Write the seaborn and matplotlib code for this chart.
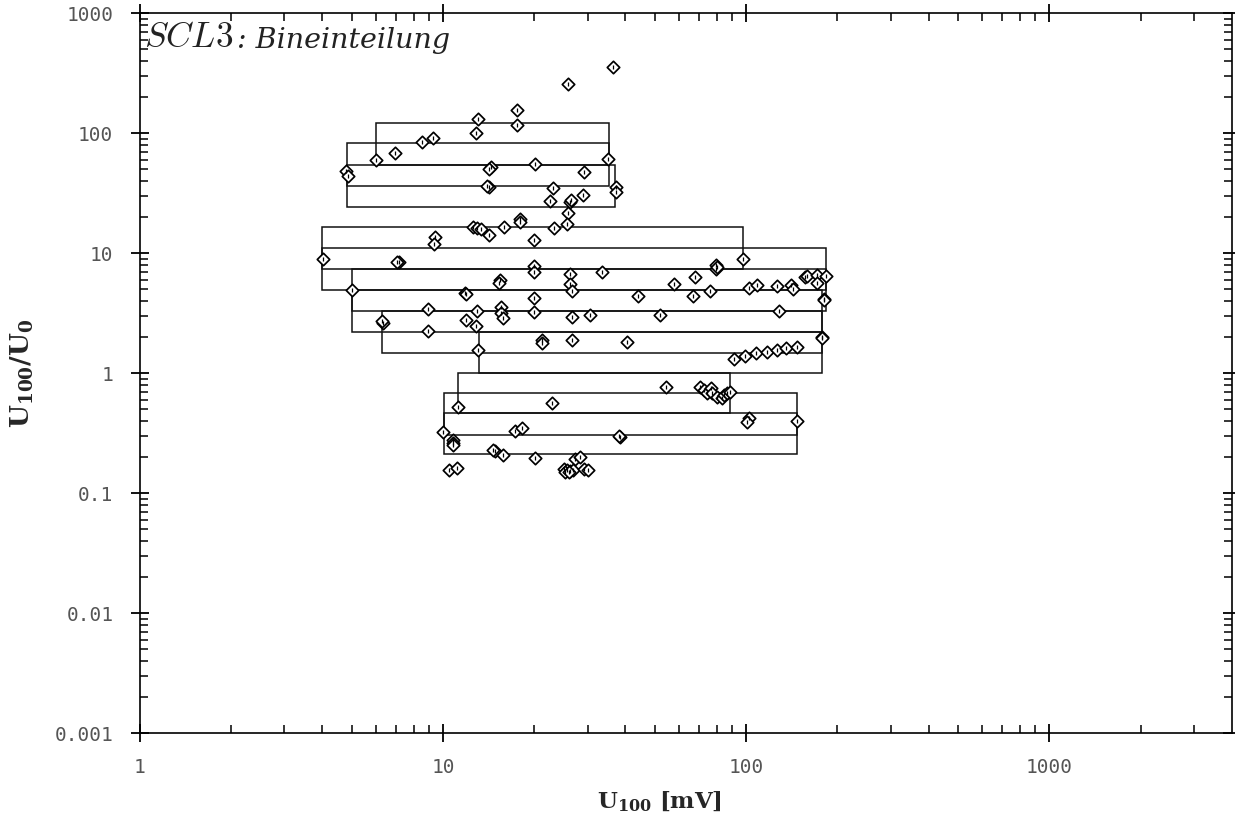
import numpy as np
import pandas as pd
import matplotlib
matplotlib.use("Agg")
import matplotlib.pyplot as plt
import seaborn as sns
from matplotlib.patches import Rectangle
from matplotlib.ticker import FixedLocator, FixedFormatter, NullFormatter

# ---- measured channels: U100 [mV] and ratio U100/U0 ----
u100 = [
    36.4, 25.9, 17.6, 13.1, 17.6, 12.9, 9.27, 8.50, 6.94, 6.01, 35.1, 20.1, 14.4, 14.2,
    4.80, 4.88, 29.2, 14.2, 14.0, 23.0, 37.1, 37.1, 29.0, 22.6, 26.2, 26.4,
    25.9, 25.6, 17.9, 17.9, 12.6, 13.0, 13.4, 15.9, 14.2, 23.2, 9.43, 9.36, 20.0,
    4.01, 7.14, 7.05, 97.7, 79.8, 79.4, 80.3, 26.3, 33.5, 20.0, 20.0, 15.4, 15.3,
    26.3, 26.6, 68.0, 57.7, 67.0, 75.9, 102, 109, 126, 141, 143, 156, 159, 171,
    171, 183, 180, 181, 44.0, 5.03, 11.8, 11.9, 20.0, 8.90, 13.0, 15.5, 15.5, 15.8,
    19.9, 26.6, 30.6, 51.9, 128, 6.34, 6.30, 11.9, 12.9, 8.90, 21.3, 21.3, 13.1,
    26.6, 40.5, 178, 178, 91.2, 99.5, 108, 117, 126, 135, 147,
    54.3, 70.3, 72.4, 74.3, 76.3, 77.2, 80.2, 83.3, 84.4, 86.5, 88.7,
    11.2, 22.9, 102, 101, 147, 10.0, 17.3, 18.2, 38.5, 38.2, 10.8, 10.8, 10.8,
    14.9, 14.6, 15.8, 20.1, 27.3, 28.4, 10.5, 11.1, 25.0, 25.6, 26.3, 26.9, 29.1,
    30.2, 25.3, 26.0,
]
ratio = [
    359, 256, 158, 131, 117, 100, 92, 84, 68, 60, 60.7, 55.5, 52.1, 50.1,
    48.2, 44.1, 47.6, 35.7, 36.2, 34.8, 35.5, 32.6, 30.8, 27.4, 26.9, 27.6,
    21.5, 17.5, 19.3, 18.1, 16.5, 16.2, 15.9, 16.5, 14.2, 16.3, 13.8, 11.9, 12.9,
    8.91, 8.41, 8.55, 8.97, 7.99, 7.40, 7.75, 6.68, 6.95, 7.84, 7.03, 5.99, 5.62,
    5.52, 4.85, 6.38, 5.55, 4.43, 4.85, 5.17, 5.41, 5.34, 5.44, 5.04, 6.31, 6.47, 6.59,
    5.69, 6.47, 4.14, 4.05, 4.43, 4.95, 4.64, 4.55, 4.22, 3.43, 3.32, 3.59, 3.16, 2.87,
    3.26, 2.93, 3.06, 3.06, 3.32, 2.61, 2.72, 2.78, 2.46, 2.25, 1.89, 1.78, 1.56,
    1.89, 1.81, 2.02, 1.96, 1.31, 1.39, 1.47, 1.51, 1.57, 1.62, 1.65,
    0.773, 0.773, 0.726, 0.681, 0.750, 0.681, 0.638, 0.619, 0.660, 0.681, 0.703,
    0.527, 0.562, 0.422, 0.395, 0.403, 0.326, 0.332, 0.348, 0.296, 0.300, 0.278, 0.261, 0.253,
    0.225, 0.228, 0.208, 0.196, 0.192, 0.202, 0.156, 0.162, 0.159, 0.156, 0.154, 0.157, 0.159,
    0.156, 0.152, 0.150,
]

# ---- bin boundaries (overlapping bins) ----
bin_x_lo = [6.01, 4.83, 4.83, 4.0, 4.0, 5.03, 5.03, 6.32, 13.2, 11.2, 10.05, 10.05]
bin_x_hi = [35.2, 35.2, 37.0, 97.7, 183.6, 183.6, 178.2, 178.2, 178.2, 88.8, 147.3, 147.3]
bin_y_lo = [54.4, 36.4, 24.5, 7.36, 4.95, 3.32, 2.20, 1.485, 1.0, 0.464, 0.306, 0.2126]
bin_y_hi = [122, 82.5, 54.4, 16.5, 11.1, 7.36, 4.95, 3.32, 2.20, 1.0, 0.681, 0.464]

x_major = [1, 10, 100, 1000]
x_labels = ["1", "10", "100", "1000"]
y_major = [0.001, 0.01, 0.1, 1, 10, 100, 1000]
y_labels = ["0.001", "0.01", "0.1", "1", "10", "100", "1000"]

df = pd.DataFrame({"u100": u100, "ratio": ratio})

sns.set_theme(style="ticks")
plt.rcParams["font.family"] = ["DejaVu Sans"]

fig = plt.figure(figsize=(12.35, 8.19), dpi=100)
ax = fig.add_axes([0.1131, 0.1046, 0.8844, 0.8791])
ax.set_xscale("log")
ax.set_yscale("log")
ax.set_xlim(1, 4000)
ax.set_ylim(0.001, 1000)

for xl, xh, yl, yh in zip(bin_x_lo, bin_x_hi, bin_y_lo, bin_y_hi):
    ax.add_patch(Rectangle((xl, yl), xh - xl, yh - yl, fill=False,
                           edgecolor="#111111", linewidth=1.1, zorder=2))

sns.scatterplot(data=df, x="u100", y="ratio", marker="D", s=40,
                color="white", edgecolor="black", linewidth=1.25,
                ax=ax, zorder=3, legend=False)
ax.scatter(df["u100"], df["ratio"], marker="|", s=6, color="black",
           linewidths=0.9, zorder=4)

# ticks
minor_x = [m * 10 ** e for e in range(0, 4) for m in range(2, 10) if m * 10 ** e < 4000]
minor_y = [m * 10.0 ** e for e in range(-3, 3) for m in range(2, 10)]
ax.xaxis.set_major_locator(FixedLocator(x_major))
ax.xaxis.set_major_formatter(FixedFormatter(x_labels))
ax.xaxis.set_minor_locator(FixedLocator(minor_x))
ax.xaxis.set_minor_formatter(NullFormatter())
ax.yaxis.set_major_locator(FixedLocator(y_major))
ax.yaxis.set_major_formatter(FixedFormatter(y_labels))
ax.yaxis.set_minor_locator(FixedLocator(minor_y))
ax.yaxis.set_minor_formatter(NullFormatter())

ax.tick_params(which="major", direction="inout", length=13, width=1.3,
               top=True, right=True, colors="black", labelcolor="#555555",
               labelsize=14, labelfontfamily="DejaVu Sans Mono")
ax.tick_params(axis="x", which="major", pad=11)
ax.tick_params(axis="y", which="major", pad=12.5)
ax.tick_params(which="minor", direction="in", length=6, width=1.1,
               top=True, right=True, colors="black")
for sp in ax.spines.values():
    sp.set_linewidth(1.2)
    sp.set_color("black")
ax.grid(False)
ax.set_facecolor("white")

# axis labels
ax.set_xlabel(r"$\mathbf{U}_{\mathbf{100}}$ [mV]", fontsize=16.5, fontweight="bold",
              family="DejaVu Serif", math_fontfamily="dejavuserif", va="center")
ax.xaxis.set_label_coords((660 - 139.7) / 1092.3, (733.3 - 802) / 720)
ax.set_ylabel(r"$\mathbf{U}_{\mathbf{100}}\mathbf{/U}_{\mathbf{0}}$", fontsize=19,
              fontweight="bold", family="DejaVu Serif", math_fontfamily="dejavuserif",
              va="center", ha="center")
ax.yaxis.set_label_coords((22 - 139.7) / 1092.3, 0.5)

# title inside the frame
t1 = ax.text((144 - 139.7) / 1092.3, (733.3 - 47) / 720, r"$SCL3$", transform=ax.transAxes,
             fontsize=25.5, math_fontfamily="cm", va="baseline", ha="left", color="#222222")
ax.annotate(": Bineinteilung", xy=(1, 0), xycoords=t1, xytext=(3, 0),
            textcoords="offset points", fontsize=20.5, family="DejaVu Serif",
            style="italic", va="bottom", ha="left", color="#222222")

fig.savefig("out.png", dpi=100)
